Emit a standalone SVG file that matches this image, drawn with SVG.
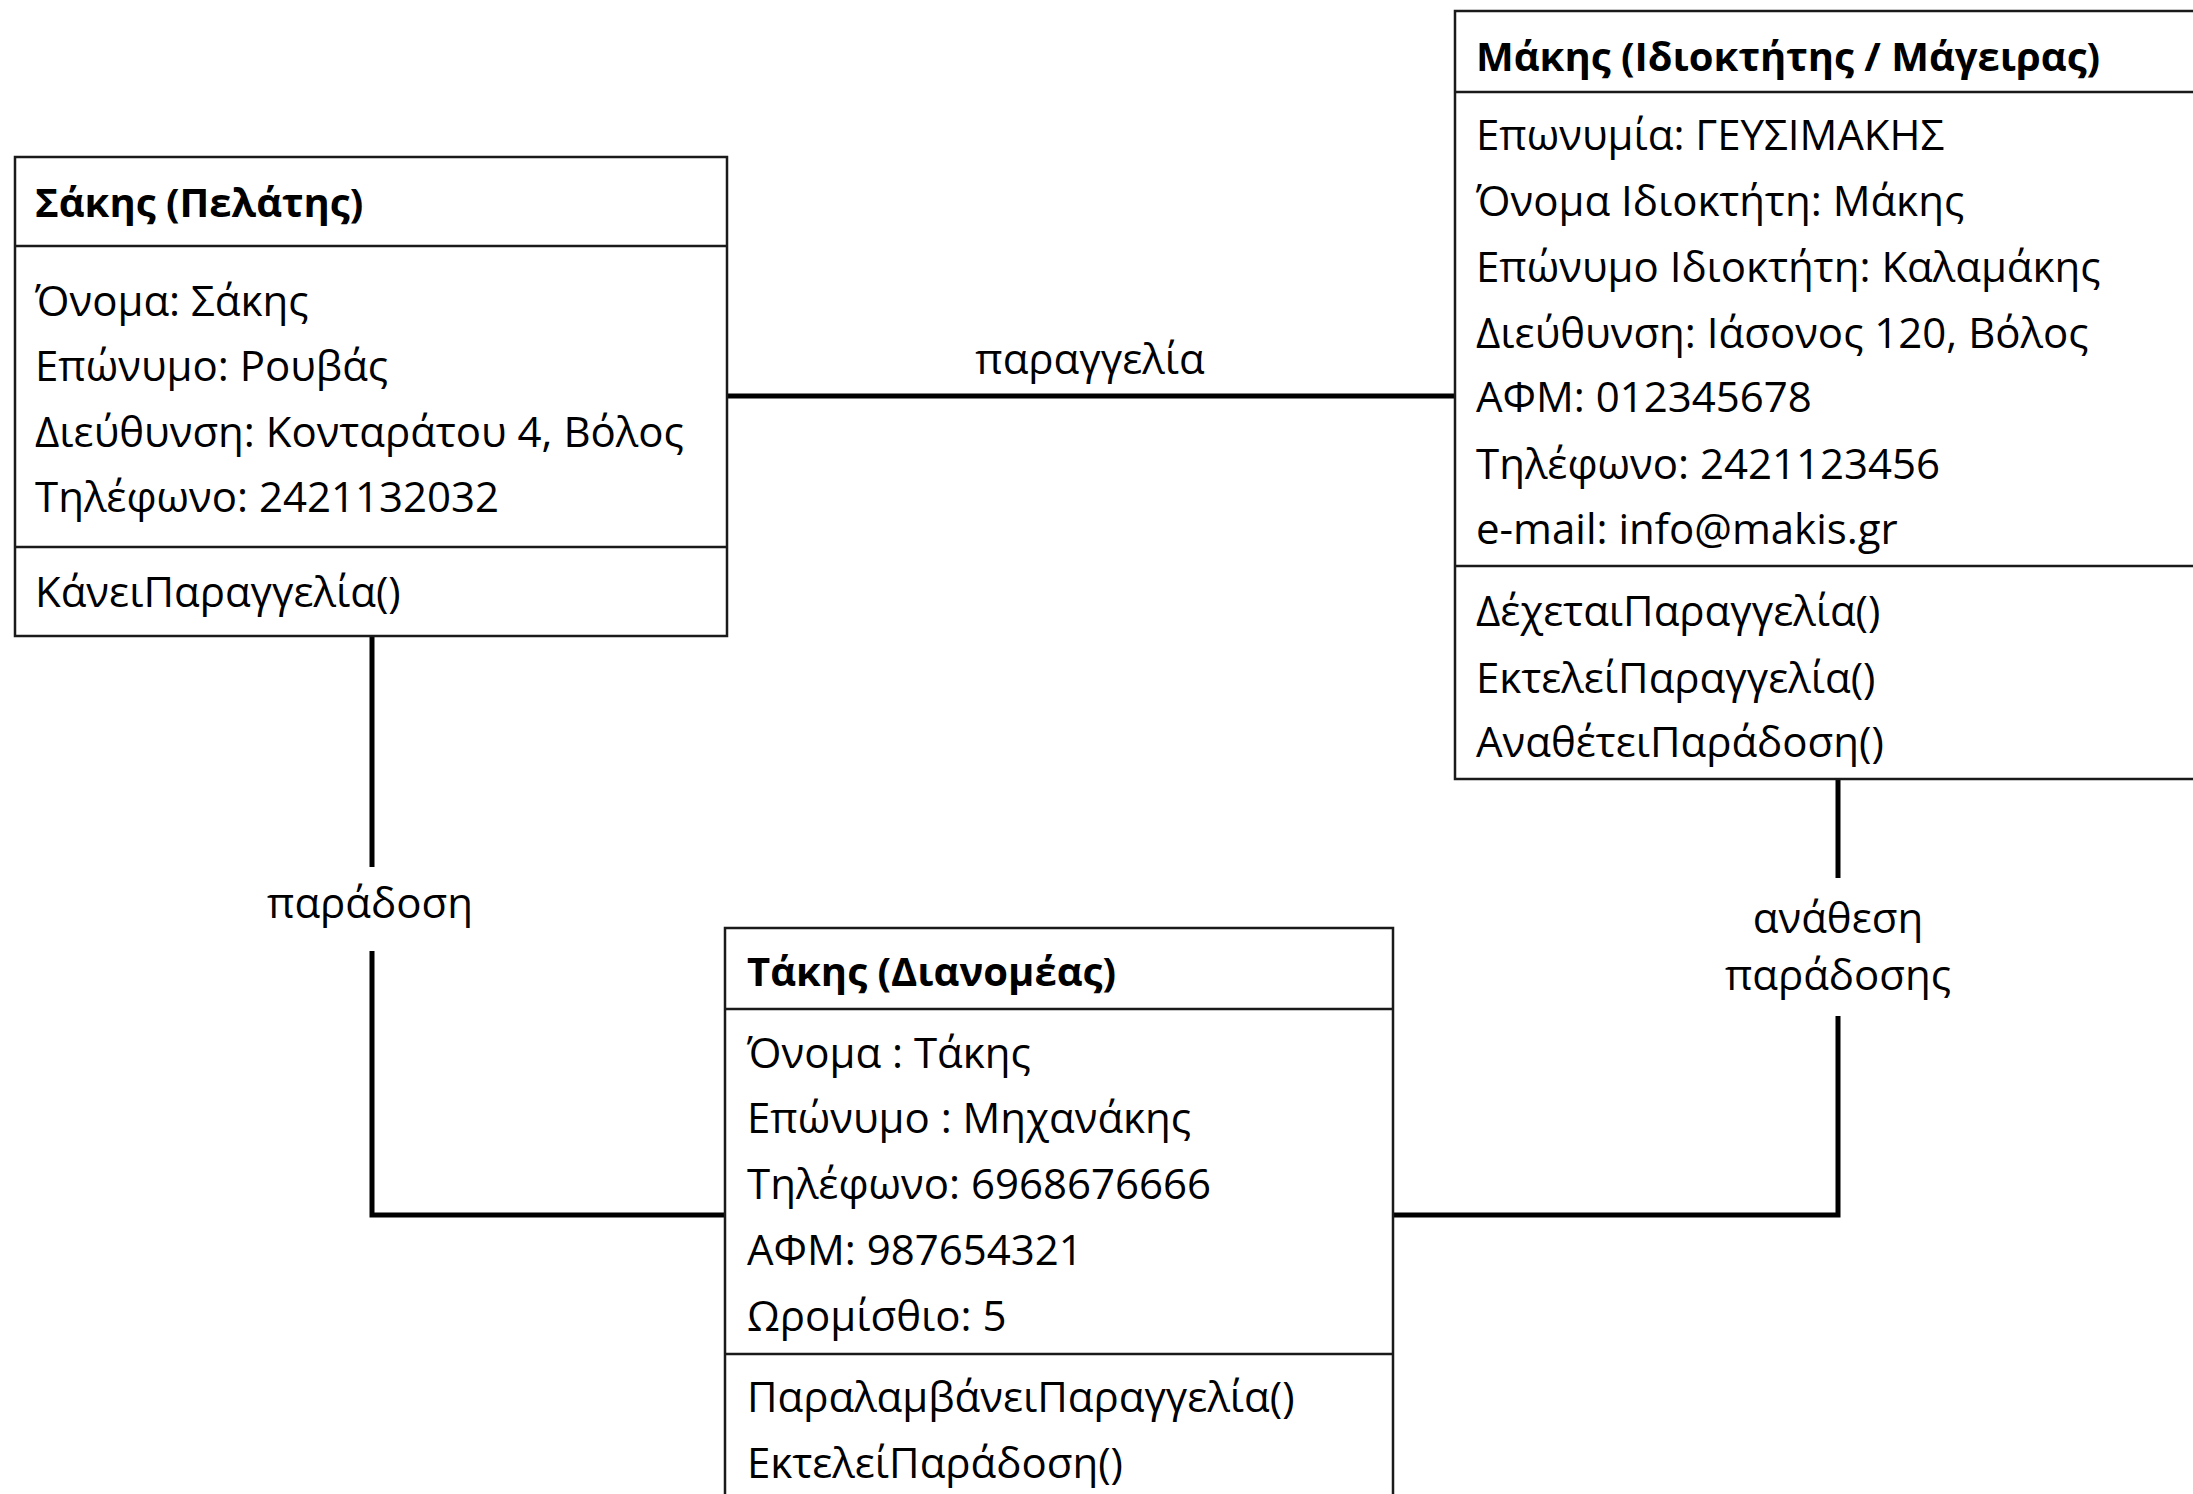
<svg xmlns="http://www.w3.org/2000/svg" width="2193" height="1494" viewBox="0 0 2193 1494">
<style>
  .box{fill:#fff;stroke:#1a1a1a;stroke-width:2.5}
  .sep{stroke:#1a1a1a;stroke-width:2.5}
  .t{font-family:"Open Sans","Noto Sans","DejaVu Sans",sans-serif;font-size:42px;fill:#000}
  .h{font-weight:bold;font-size:40px}
  .lbl{font-family:"Open Sans","Noto Sans","DejaVu Sans",sans-serif;font-size:42px;fill:#000;text-anchor:middle}
  .con{fill:none;stroke:#000;stroke-width:5}
</style>
<rect width="2193" height="1494" fill="#fff"/>
<g id="connectors">
  <line class="con" x1="727" y1="396" x2="1455" y2="396"/>
  <path class="con" d="M372 636 V867"/>
  <path class="con" d="M372 951 V1215 H725"/>
  <path class="con" d="M1838 779 V878"/>
  <path class="con" d="M1838 1016 V1215 H1393"/>
  <text class="lbl" x="1090" y="374">παραγγελία</text>
  <text class="lbl" x="370" y="918">παράδοση</text>
  <text class="lbl" x="1838" y="933">ανάθεση</text>
  <text class="lbl" x="1838" y="990">παράδοσης</text>
</g>
<g id="sakis">
  <rect class="box" x="15" y="157" width="712" height="479"/>
  <line class="sep" x1="15" y1="246" x2="727" y2="246"/>
  <line class="sep" x1="15" y1="547" x2="727" y2="547"/>
  <text class="t h" x="35" y="217">Σάκης (Πελάτης)</text>
  <text class="t" x="35" y="316">Όνομα: Σάκης</text>
  <text class="t" x="35" y="381">Επώνυμο: Ρουβάς</text>
  <text class="t" x="35" y="447">Διεύθυνση: Κονταράτου 4, Βόλος</text>
  <text class="t" x="35" y="512">Τηλέφωνο: 2421132032</text>
  <text class="t" x="35" y="607">ΚάνειΠαραγγελία()</text>
</g>
<g id="makis">
  <rect class="box" x="1455" y="11" width="760" height="768"/>
  <line class="sep" x1="1455" y1="92" x2="2200" y2="92"/>
  <line class="sep" x1="1455" y1="566" x2="2200" y2="566"/>
  <text class="t h" x="1476" y="71">Μάκης (Ιδιοκτήτης / Μάγειρας)</text>
  <text class="t" x="1476" y="150">Επωνυμία: ΓΕΥΣΙΜΑΚΗΣ</text>
  <text class="t" x="1476" y="216">Όνομα Ιδιοκτήτη: Μάκης</text>
  <text class="t" x="1476" y="282">Επώνυμο Ιδιοκτήτη: Καλαμάκης</text>
  <text class="t" x="1476" y="348">Διεύθυνση: Ιάσονος 120, Βόλος</text>
  <text class="t" x="1476" y="412">ΑΦΜ: 012345678</text>
  <text class="t" x="1476" y="479">Τηλέφωνο: 2421123456</text>
  <text class="t" x="1476" y="544">e-mail: info@makis.gr</text>
  <text class="t" x="1476" y="626">ΔέχεταιΠαραγγελία()</text>
  <text class="t" x="1476" y="693">ΕκτελείΠαραγγελία()</text>
  <text class="t" x="1476" y="757">ΑναθέτειΠαράδοση()</text>
</g>
<g id="takis">
  <rect class="box" x="725" y="928" width="668" height="600"/>
  <line class="sep" x1="725" y1="1009" x2="1393" y2="1009"/>
  <line class="sep" x1="725" y1="1354" x2="1393" y2="1354"/>
  <text class="t h" x="747" y="986">Τάκης (Διανομέας)</text>
  <text class="t" x="747" y="1068">Όνομα : Τάκης</text>
  <text class="t" x="747" y="1133">Επώνυμο : Μηχανάκης</text>
  <text class="t" x="747" y="1199">Τηλέφωνο: 6968676666</text>
  <text class="t" x="747" y="1265">ΑΦΜ: 987654321</text>
  <text class="t" x="747" y="1331">Ωρομίσθιο: 5</text>
  <text class="t" x="747" y="1412">ΠαραλαμβάνειΠαραγγελία()</text>
  <text class="t" x="747" y="1478">ΕκτελείΠαράδοση()</text>
</g>
</svg>
